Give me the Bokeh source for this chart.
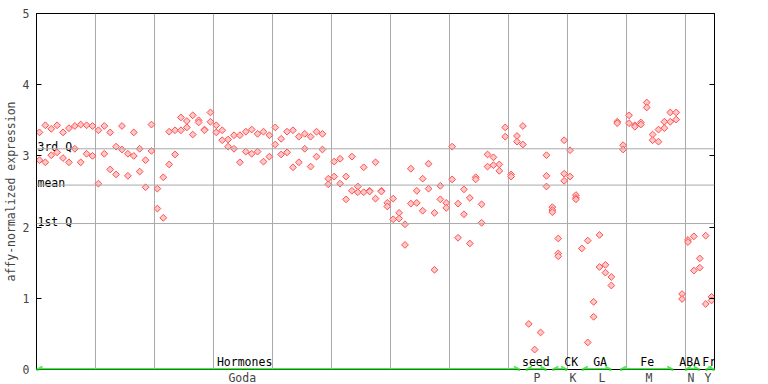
import math
from bokeh.plotting import figure
from bokeh.models import (Range1d, FixedTicker, Span, LinearAxis, CustomJSTickFormatter,
                          Arrow, OpenHead, LabelSet, ColumnDataSource)
from bokeh.embed import file_html
from bokeh.resources import INLINE
from bokeh.core.properties import value

nan = float("nan")

# ---- data: replicate expression values per sample (index 0..114) ----
rep1 = [3.33, 3.43, 3.38, 3.43, 3.33, 3.39, 3.42, 3.44, 3.43, 3.42,
        3.36, 3.42, 3.33, 3.13, 3.42, 3.03, 3.33, 3.10, 2.94, 3.44,
        2.54, 2.70, 3.34, 3.36, 3.54, 3.49, 3.57, 3.50, 3.37, 3.61,
        3.43, 3.36, 3.23, 3.29, 3.29, 3.34, 3.37, 3.31, 3.34, 3.29,
        3.40, 3.24, 3.34, 3.36, 3.27, 3.31, 3.27, 3.34, 3.31, 2.68,
        2.92, 2.96, 2.71, 2.99, 2.57, 2.84, 2.51, 2.91, 2.51, 2.34,
        2.40, 2.20, 2.04, 2.82, 2.51, 2.68, 2.89, 2.20, 2.58, 2.34,
        3.13, 2.33, 2.53, 2.41, 2.70, 2.32, 3.02, 2.98, 2.88, 3.40,
        2.74, 3.28, 3.42, 0.64, 0.28, 0.52, 3.01, 2.28, 1.84, 3.22,
        3.08, 2.45, 1.70, 1.81, 0.95, 1.89, 1.47, 1.30, 3.48, 3.15,
        3.57, 3.43, 3.47, 3.75, 3.30, 3.37, 3.48, 3.61, 3.61, 1.06,
        1.82, 1.87, 1.56, 1.88, 1.02]

rep2 = [2.94, 2.91, 3.01, 3.05, 2.97, 2.91, 3.10, 2.91, 3.03, 3.00,
        2.61, 3.03, 2.81, 2.74, 3.09, 2.72, 3.00, 2.78, 2.56, 3.07,
        2.26, 2.13, 2.88, 3.02, 3.36, 3.40, 3.30, 3.47, 3.36, 3.48,
        3.33, 3.22, 3.13, 3.10, 2.91, 3.06, 3.03, 3.06, 2.92, 2.99,
        3.16, 3.02, 3.05, 2.84, 2.91, 3.10, 2.85, 2.99, 3.09, 2.60,
        2.71, 2.61, 2.39, 2.51, 2.49, 2.49, 2.50, 2.40, 2.50, 2.29,
        2.11, 2.12, 1.75, 2.33, 2.34, 2.23, 2.54, 1.40, 2.39, 2.27,
        2.67, 1.85, 2.18, 1.77, 2.67, 2.06, 2.85, 2.87, 2.79, 3.27,
        2.71, 3.20, 3.16, nan, nan, nan, 2.72, 2.24, 1.63, 2.75,
        2.71, 2.41, nan, 0.38, 0.74, 1.44, 1.36, 1.18, 3.46, 3.09,
        3.46, 3.41, 3.44, 3.68, 3.22, 3.20, 3.39, 3.48, 3.51, 0.99,
        1.79, 1.39, 1.43, 0.92, 0.97]

extra_idx = [86, 87, 88, 89, 91]
extra_val = [2.57, 2.21, 1.59, 2.65, 2.39]

# summary lines
quart_names = ["3rd Q", "mean", "1st Q"]
quart_vals = [3.10, 2.59, 2.05]

# experiment groups along the bottom
group_names = ["Hormones", "seed", "CK", "GA", "Fe", "ABA", "Fr"]
group_subs = ["Goda", "P", "K", "L", "M", "N", "Y"]
group_start = [0.0, 83.0, 87.5, 92.5, 99.0, 110.0, 113.5]
group_end = [82.0, 86.5, 90.0, 97.5, 108.0, 112.5, 115.0]
group_label_x = [35.3, 84.7, 90.7, 95.6, 103.6, 110.8, 114.1]
group_sub_x = [34.9, 84.9, 91.0, 95.9, 103.9, 111.0, 113.9]

y_ticks = [0, 1, 2, 3, 4, 5]
grid_x = list(range(10, 115, 10))

# ---- styling ----
RED = "#ff4f4f"
PINK = "#ffc8c8"
GREEN = "#44ee44"
GRID = "#aaaaaa"
FONT = "DejaVu Sans Mono"
FS = "11.5px"

n = len(rep1)
xs = [i + 0.5 for i in range(n)]

p = figure(frame_width=678, frame_height=356, output_backend="svg", toolbar_location=None,
           x_range=Range1d(0, n), y_range=Range1d(0, 5),
           min_border_left=0, min_border_top=13, min_border_right=30, min_border_bottom=0)
p.background_fill_color = "white"
p.border_fill_color = "white"
p.outline_line_color = "black"
p.outline_line_width = 1

p.xgrid.ticker = FixedTicker(ticks=grid_x)
p.xgrid.grid_line_color = GRID
p.ygrid.grid_line_color = None

for q in quart_vals:
    p.add_layout(Span(location=q, dimension="width", line_color=GRID, line_width=1))

p.text(x=[0, 0, 0], y=quart_vals, text=quart_names, text_baseline="alphabetic",
       x_offset=1, y_offset=-2, text_font=value(FONT), text_font_size=FS, text_color="black")

# points
for vals in (rep1, rep2):
    p.scatter(xs, vals, marker="square", angle=math.pi / 4, size=4.8,
              line_color=RED, fill_color=PINK, line_width=1)
p.scatter([i + 0.5 for i in extra_idx], extra_val, marker="square", angle=math.pi / 4, size=4.8,
          line_color=RED, fill_color=PINK, line_width=1)

# group arrows along the bottom
for s, e in zip(group_start, group_end):
    p.add_layout(Arrow(start=OpenHead(size=6, line_color=GREEN, line_width=1.5),
                       end=OpenHead(size=6, line_color=GREEN, line_width=1.5),
                       x_start=s, y_start=0, x_end=e, y_end=0,
                       line_color=GREEN, line_width=3))

lbl_src = ColumnDataSource(dict(x=group_label_x, y=[0] * len(group_names), text=group_names))
p.add_layout(LabelSet(x="x", y="y", text="text", source=lbl_src, text_align="center",
                      text_baseline="alphabetic", y_offset=4, text_font=value(FONT),
                      text_font_size=value(FS), text_color="black"))

# bottom axis: sub labels
xa = p.xaxis[0]
xa.ticker = FixedTicker(ticks=group_sub_x)
xa.formatter = CustomJSTickFormatter(args=dict(labels=group_subs), code="return labels[index];")
xa.axis_line_color = None
xa.major_tick_line_color = None
xa.minor_tick_line_color = None
xa.major_tick_in = 0
xa.major_tick_out = 0
xa.major_label_standoff = 1
xa.major_label_text_font = FONT
xa.major_label_text_font_size = FS

# left axis
ya = p.yaxis[0]
ya.ticker = FixedTicker(ticks=y_ticks)
ya.major_tick_in = 5
ya.major_tick_out = 0
ya.minor_tick_line_color = None
ya.major_label_standoff = 7
ya.major_label_text_font = FONT
ya.major_label_text_font_size = FS
ya.axis_label = "affy-normalized expression"
ya.axis_label_text_font = FONT
ya.axis_label_text_font_size = FS
ya.axis_label_text_font_style = "normal"
ya.axis_label_standoff = 2

# right axis (ticks only)
ra = LinearAxis(ticker=FixedTicker(ticks=y_ticks),
                formatter=CustomJSTickFormatter(code="return '';"),
                major_tick_in=5, major_tick_out=0, minor_tick_line_color=None,
                major_label_standoff=0)
p.add_layout(ra, "right")

open("out.html", "w").write(file_html(p, INLINE))
